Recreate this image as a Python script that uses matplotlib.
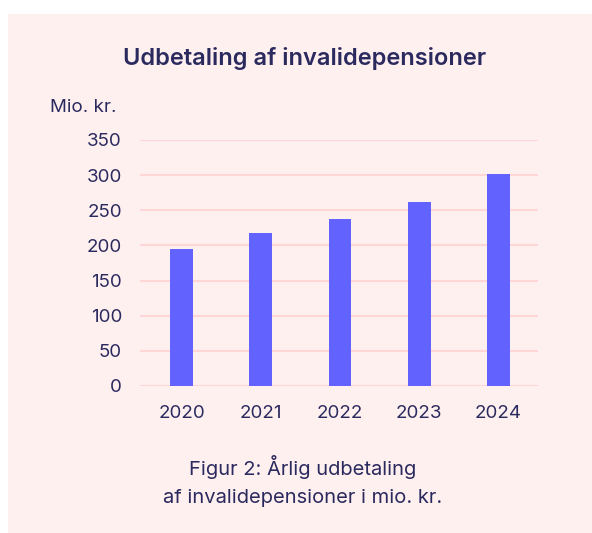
import matplotlib.pyplot as plt
from matplotlib.patches import Rectangle

years = ["2020", "2021", "2022", "2023", "2024"]
payouts = [195, 217, 238, 262, 301]
y_ticks = [0, 50, 100, 150, 200, 250, 300, 350]

text_col = "#2b2a5e"
bg_col = "#fff0f0"
grid_col = "#ffd6d6"
bar_col = "#6262ff"

plt.rcParams['font.family'] = ['Inter', 'DejaVu Sans']

fig = plt.figure(figsize=(5.92, 5.33), dpi=100)
fig.patch.set_facecolor("white")

# pink panel behind everything
fig.patches.append(Rectangle((8 / 592, 0), 584 / 592, 519 / 533,
                             transform=fig.transFigure, facecolor=bg_col,
                             edgecolor="none", zorder=0))

# axes box: x 140..538 px, y 140..386 px
ax = fig.add_axes([140 / 592, 1 - 386 / 533, 398 / 592, 246 / 533])
ax.set_facecolor("none")
ax.set_zorder(2)

x = range(len(years))
ax.bar(x, payouts, width=0.29, color=bar_col, zorder=3)

ax.set_xlim(-0.525, 4.5)
ax.set_ylim(0, 350)
ax.set_yticks(y_ticks)
ax.set_xticks(list(x))
ax.set_xticklabels(years)
ax.grid(axis="y", color=grid_col, linewidth=1.5, zorder=0)
ax.set_axisbelow(True)
for s in ax.spines.values():
    s.set_visible(False)
ax.tick_params(axis="both", length=0, labelsize=13.5, labelcolor=text_col)
ax.tick_params(axis="y", pad=13)
ax.tick_params(axis="x", pad=14)

fig.text(305 / 592, 1 - 59 / 533, "Udbetaling af invalidepensioner",
         ha="center", va="center", fontsize=17, fontweight="semibold",
         color=text_col)
fig.text(50 / 592, 1 - 108 / 533, "Mio. kr.", ha="left", va="center",
         fontsize=13.5, color=text_col)
fig.text(303 / 592, 1 - 481 / 533,
         "Figur 2: Årlig udbetaling\naf invalidepensioner i mio. kr.",
         ha="center", va="center", fontsize=14.5, color=text_col,
         linespacing=1.75)

fig.savefig("out.png", dpi=100)
